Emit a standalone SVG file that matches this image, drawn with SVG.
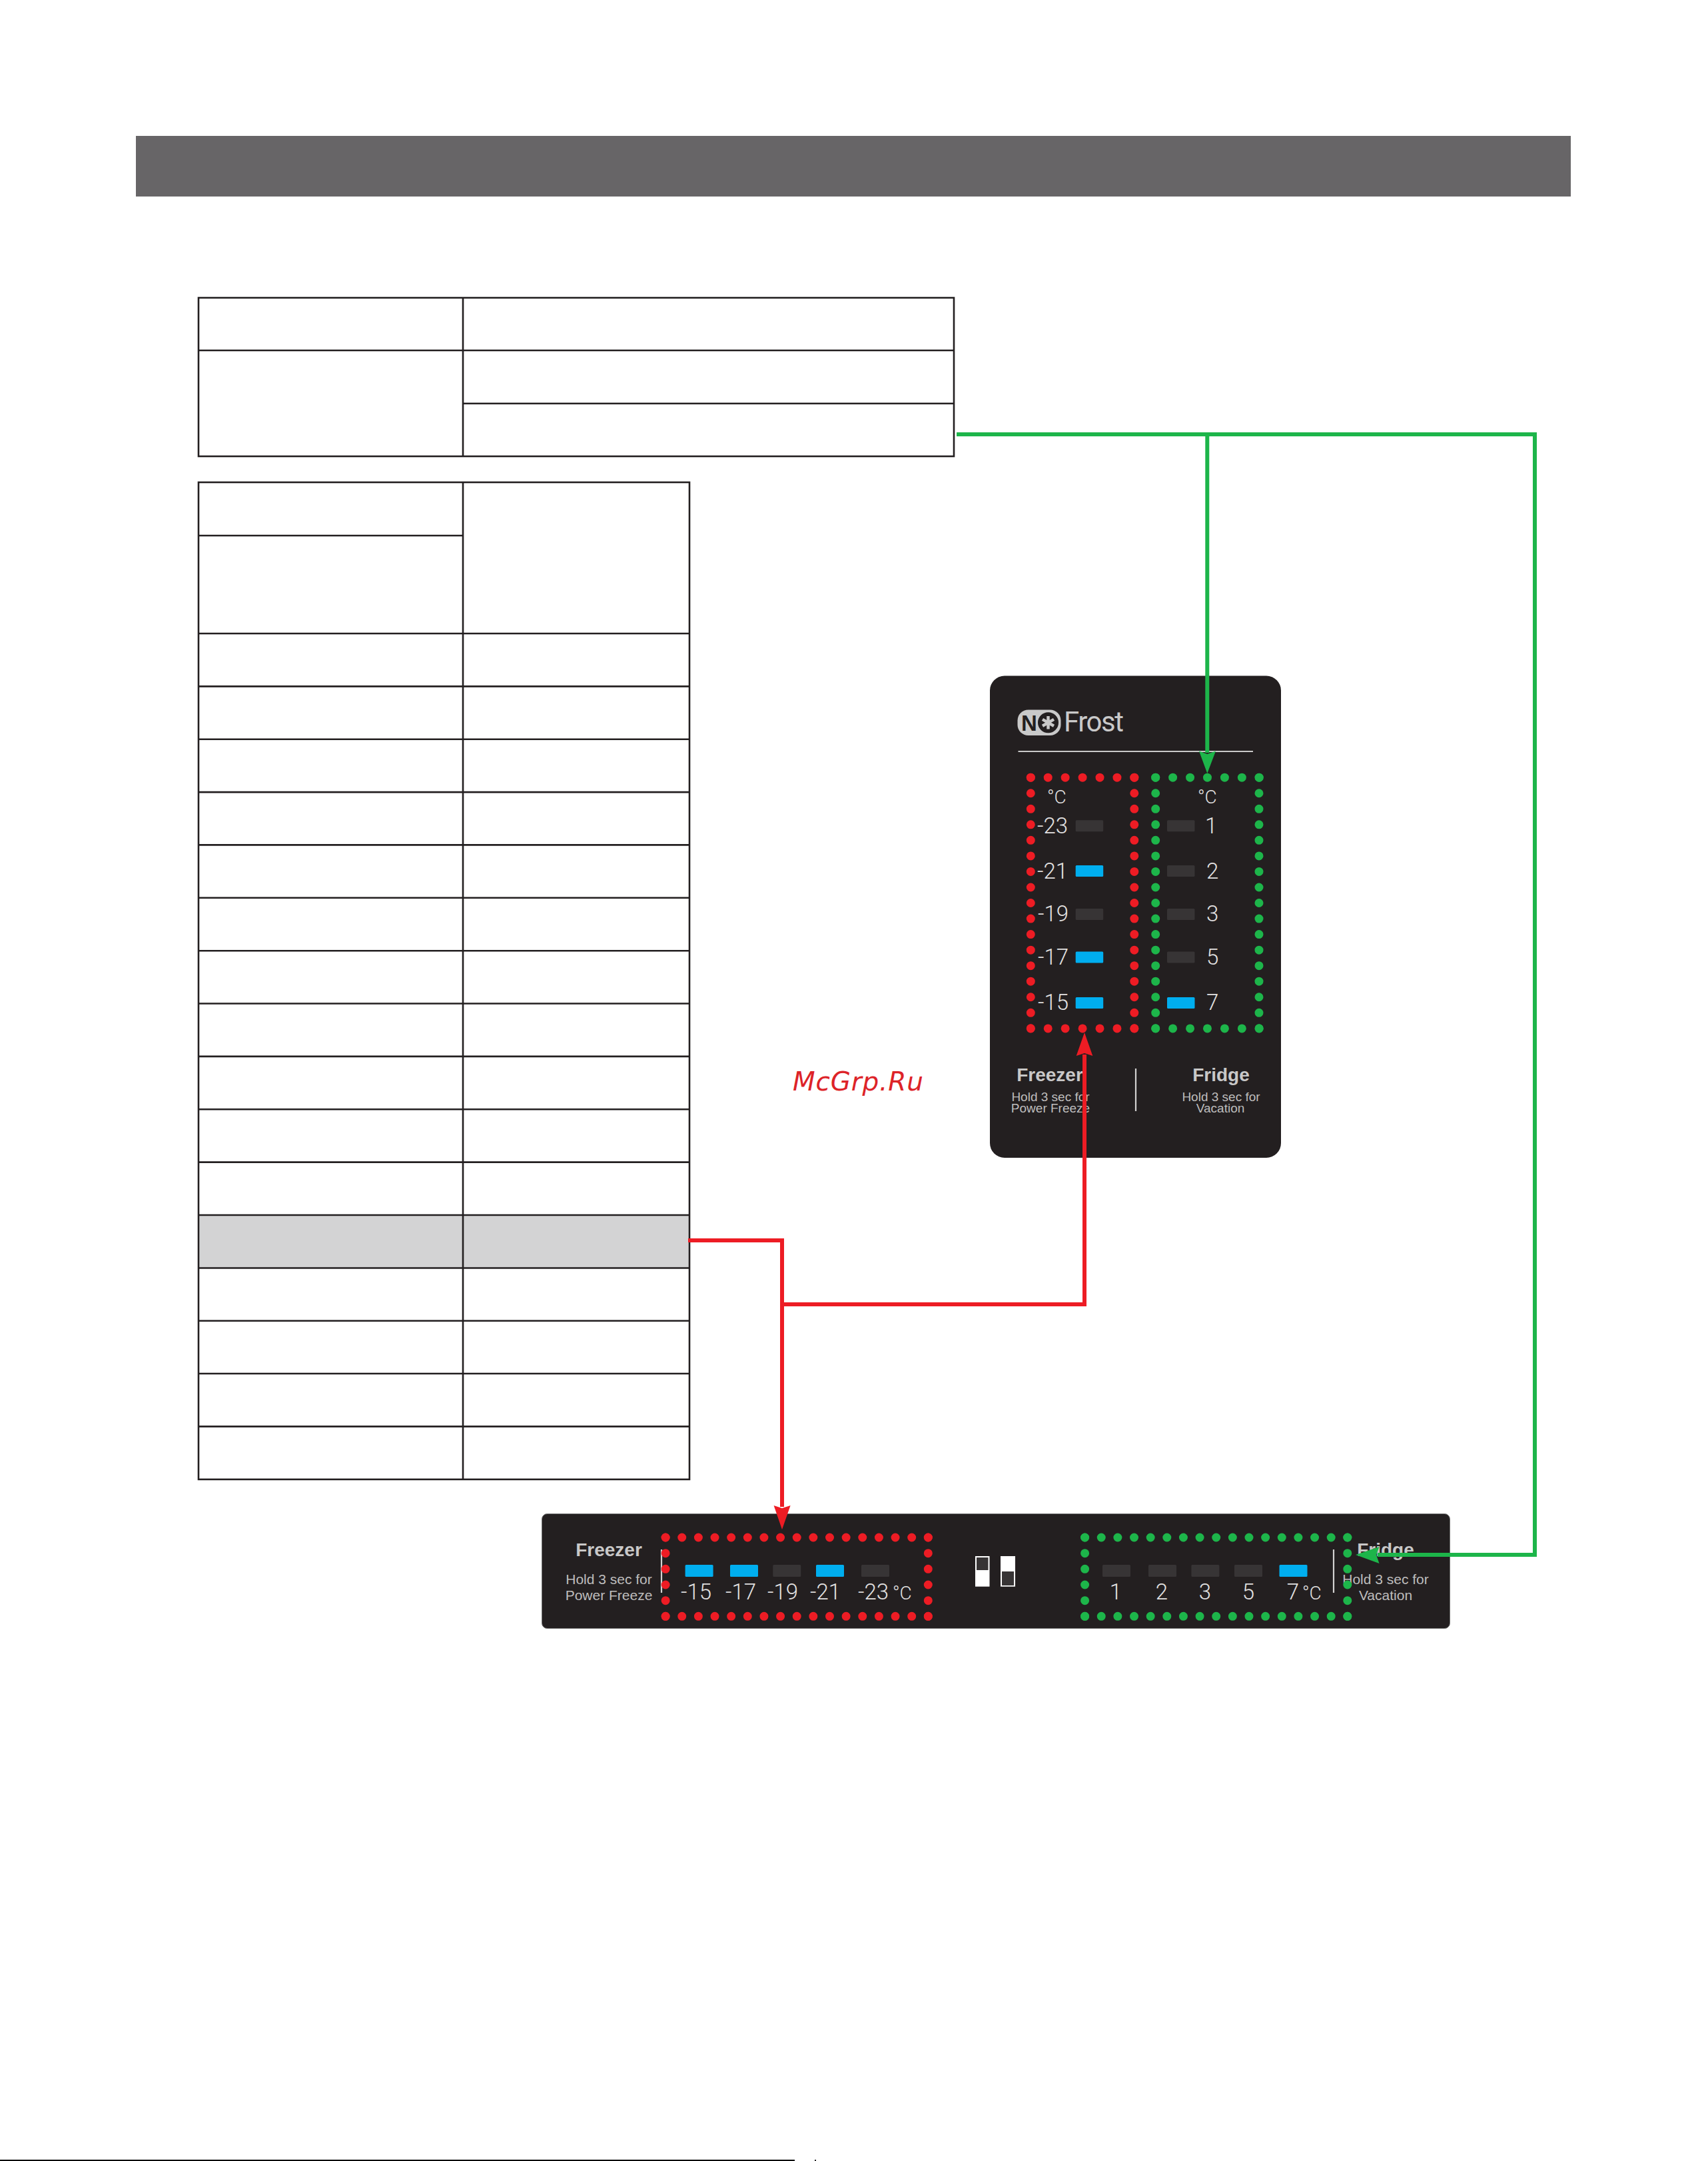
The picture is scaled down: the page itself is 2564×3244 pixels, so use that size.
<svg xmlns="http://www.w3.org/2000/svg" width="2564" height="3244" viewBox="0 0 2564 3244">
<style>
text{font-family:"Liberation Sans",Arial,sans-serif;fill:#c9c8c8}
.b{font-weight:700;font-size:28px}
.s{font-size:19px;fill:#bebdbd}
.s2{font-size:21px;fill:#bebdbd}
.n{font-family:Roboto,"Liberation Sans",sans-serif;font-weight:300;font-size:33px;fill:#e2e1e1}
.d{font-family:Roboto,"Liberation Sans",sans-serif;font-weight:300;font-size:28px;fill:#e2e1e1}
.m{text-anchor:middle}
.e{text-anchor:end}
.cell{fill:none;stroke:#231f20;stroke-width:2.6}
.on{fill:#00aeef}
.off{fill:#373435}
.panel{fill:#231f20}
.dv{stroke:#d2d1d1;stroke-width:2.2}
.rd,.gd{fill:none;stroke-width:13;stroke-linecap:round}
.rd{stroke:#ed1c24}
.gd{stroke:#1db54a}
.rc{fill:none;stroke:#ed1c24;stroke-width:6}
.gc{fill:none;stroke:#1db54a;stroke-width:6}
</style>
<rect width="2564" height="3244" fill="#fff"/>
<rect id="header" x="204" y="204" width="2154" height="91" fill="#676567"/>
<g id="table-top">
<rect class="cell" x="298" y="447" width="1134" height="238"/>
<path class="cell" d="M695 447V685M298 526H1432M695 605.7H1432"/>
</g>
<g id="table-main">
<rect x="298" y="1824" width="737" height="79.5" fill="#d3d3d4"/>
<rect class="cell" x="298" y="724" width="737" height="1496.8"/>
<path class="cell" d="M695 724V2220.8M298 804H695M298 951H1035M298 1030.4H1035M298 1109.7H1035M298 1189.1H1035M298 1268.4H1035M298 1347.8H1035M298 1427.2H1035M298 1506.5H1035M298 1585.9H1035M298 1665.2H1035M298 1744.6H1035M298 1824H1035M298 1903.5H1035M298 1982.7H1035M298 2062H1035M298 2141.4H1035"/>
</g>
<text id="watermark" x="1190" y="1637" style="font-family:'DejaVu Sans',sans-serif;font-style:italic;font-size:39px;fill:#dd2328;letter-spacing:.8px">McGrp.Ru</text>
<g id="panel-vertical">
<rect class="panel" x="1486" y="1014.5" width="437" height="723.5" rx="22" ry="22"/>
<g id="logo">
<rect x="1527.5" y="1065.5" width="65" height="38.5" rx="16" fill="#c9c9c9"/>
<text x="1533" y="1097" style="font-size:33px;font-weight:700;fill:#231f20">N</text>
<circle cx="1573.5" cy="1084.8" r="15.5" fill="#231f20"/>
<path d="M1573.5 1075V1094.6M1565 1079.9L1582 1089.7M1565 1089.7L1582 1079.9" stroke="#c9c9c9" stroke-width="4.5"/>
<text x="1597" y="1098.4" textLength="90" style="font-family:Roboto,sans-serif;font-weight:400;font-size:42px;fill:#c9c9c9">Frost</text>
</g>
<path d="M1528.5 1128H1881" stroke="#c9c9c9" stroke-width="2"/>
<g id="v-bars">
<rect class="off" x="1614.7" y="1231.2" width="41.5" height="17" rx="1.5"/>
<rect class="on" x="1614.7" y="1299" width="41.5" height="17" rx="1.5"/>
<rect class="off" x="1614.7" y="1364" width="41.5" height="17" rx="1.5"/>
<rect class="on" x="1614.7" y="1428.5" width="41.5" height="17" rx="1.5"/>
<rect class="on" x="1614.7" y="1497" width="41.5" height="17" rx="1.5"/>
<rect class="off" x="1752" y="1231.2" width="41.5" height="17" rx="1.5"/>
<rect class="off" x="1752" y="1299" width="41.5" height="17" rx="1.5"/>
<rect class="off" x="1752" y="1364" width="41.5" height="17" rx="1.5"/>
<rect class="off" x="1752" y="1428.5" width="41.5" height="17" rx="1.5"/>
<rect class="on" x="1752" y="1497" width="41.5" height="17" rx="1.5"/>
</g>
<text class="d" x="1572" y="1206">°C</text>
<text class="d" x="1798" y="1206">°C</text>
<text class="n e" x="1603" y="1250.6">-23</text>
<text class="n e" x="1603" y="1318.5">-21</text>
<text class="n e" x="1604" y="1383.4">-19</text>
<text class="n e" x="1604" y="1447.9">-17</text>
<text class="n e" x="1604" y="1516.2">-15</text>
<text class="n" x="1809" y="1250.6">1</text>
<text class="n" x="1811" y="1318.5">2</text>
<text class="n" x="1811" y="1383.4">3</text>
<text class="n" x="1811" y="1447.9">5</text>
<text class="n" x="1811" y="1516.2">7</text>
<text class="b m" x="1576" y="1623">Freezer</text>
<text class="b m" x="1833" y="1623">Fridge</text>
<text class="s m" x="1577" y="1653">Hold 3 sec for</text>
<text class="s m" x="1577" y="1670.4">Power Freeze</text>
<text class="s m" x="1833" y="1653">Hold 3 sec for</text>
<text class="s m" x="1832" y="1670.4">Vacation</text>
<path class="dv" d="M1705 1604V1668"/>
<g id="v-red-dots">
<path class="rd" stroke-dasharray="0 25.93" d="M1547.3 1167.2H1703.2M1547.3 1543.9H1703.2"/>
<path class="rd" stroke-dasharray="0 23.54" d="M1547.3 1167.2V1544.2M1702.8 1167.2V1544.2"/>
</g>
<g id="v-green-dots">
<path class="gd" stroke-dasharray="0 25.93" d="M1734.7 1167.2H1890.5M1734.7 1543.9H1890.5"/>
<path class="gd" stroke-dasharray="0 23.54" d="M1734.7 1167.2V1544.2M1890 1167.2V1544.2"/>
</g>
</g>
<g id="panel-horizontal">
<rect class="panel" x="813.5" y="2272.5" width="1363" height="172" rx="8" stroke="#6d6d6d" stroke-width="1"/>
<text class="b m" x="914" y="2336">Freezer</text>
<text class="s2 m" x="914" y="2378">Hold 3 sec for</text>
<text class="s2 m" x="914" y="2402">Power Freeze</text>
<path class="dv" d="M993 2326V2391M2002 2326V2391"/>
<g id="h-bars">
<rect class="on" x="1028.6" y="2349" width="42" height="18" rx="1.5"/>
<rect class="on" x="1096" y="2349" width="42" height="18" rx="1.5"/>
<rect class="off" x="1160.3" y="2349" width="42" height="18" rx="1.5"/>
<rect class="on" x="1225" y="2349" width="42" height="18" rx="1.5"/>
<rect class="off" x="1293" y="2349" width="42" height="18" rx="1.5"/>
<rect class="off" x="1655" y="2349" width="42" height="18" rx="1.5"/>
<rect class="off" x="1724" y="2349" width="42" height="18" rx="1.5"/>
<rect class="off" x="1788.4" y="2349" width="42" height="18" rx="1.5"/>
<rect class="off" x="1853" y="2349" width="42" height="18" rx="1.5"/>
<rect class="on" x="1920.5" y="2349" width="42" height="18" rx="1.5"/>
</g>
<text class="n e" x="1068" y="2401">-15</text>
<text class="n e" x="1135" y="2401">-17</text>
<text class="n e" x="1198" y="2401">-19</text>
<text class="n e" x="1262" y="2401">-21</text>
<text class="n e" x="1334" y="2401">-23</text>
<text class="d" x="1340" y="2401">°C</text>
<text class="n m" x="1675" y="2401">1</text>
<text class="n m" x="1744" y="2401">2</text>
<text class="n m" x="1809" y="2401">3</text>
<text class="n m" x="1874" y="2401">5</text>
<text class="n m" x="1941" y="2401">7</text>
<text class="d" x="1955" y="2401">°C</text>
<text class="b m" x="2080" y="2336">Fridge</text>
<text class="s2 m" x="2080" y="2378">Hold 3 sec for</text>
<text class="s2 m" x="2080" y="2402">Vacation</text>
<g id="switches">
<rect x="1464" y="2336" width="21.5" height="45.7" fill="#fff"/>
<rect class="off" x="1466" y="2338" width="17.5" height="19"/>
<rect x="1502" y="2336" width="22" height="45.7" fill="#fff"/>
<rect class="off" x="1504" y="2359" width="18" height="21"/>
</g>
<g id="h-red-dots">
<path class="rd" stroke-dasharray="0 24.64" d="M999.1 2308H1393.6M999.1 2426.3H1393.6"/>
<path class="rd" stroke-dasharray="0 23.66" d="M999.1 2308V2426.6M1393.3 2308V2426.6"/>
</g>
<g id="h-green-dots">
<path class="gd" stroke-dasharray="0 24.64" d="M1628.6 2308H2023.1M1628.6 2426.3H2023.1"/>
<path class="gd" stroke-dasharray="0 23.66" d="M1628.6 2308V2426.6M2022.8 2308V2426.6"/>
</g>
</g>
<g id="connectors">
<path class="gc" d="M1436 652H2304V2334H2068M1812.3 652V1130"/>
<path class="rc" d="M1033 1862H1174V2262M1174 1958H1628V1583"/>
<polygon fill="#1db54a" points="1812.3,1161 1800,1127.5 1812.3,1132 1825,1127.5"/>
<polygon fill="#1db54a" points="2035,2334 2070.5,2322 2066,2334 2070.5,2347"/>
<polygon fill="#ed1c24" points="1628,1550 1615.7,1585 1628,1581 1640.3,1585"/>
<polygon fill="#ed1c24" points="1174,2296 1161.6,2260 1174,2264 1186.6,2260"/>
</g>
<g id="page-edge">
<rect x="0" y="3242" width="1193" height="2" fill="#000"/>
<rect x="1223" y="3242" width="2" height="2" fill="#222"/>
</g>
</svg>
